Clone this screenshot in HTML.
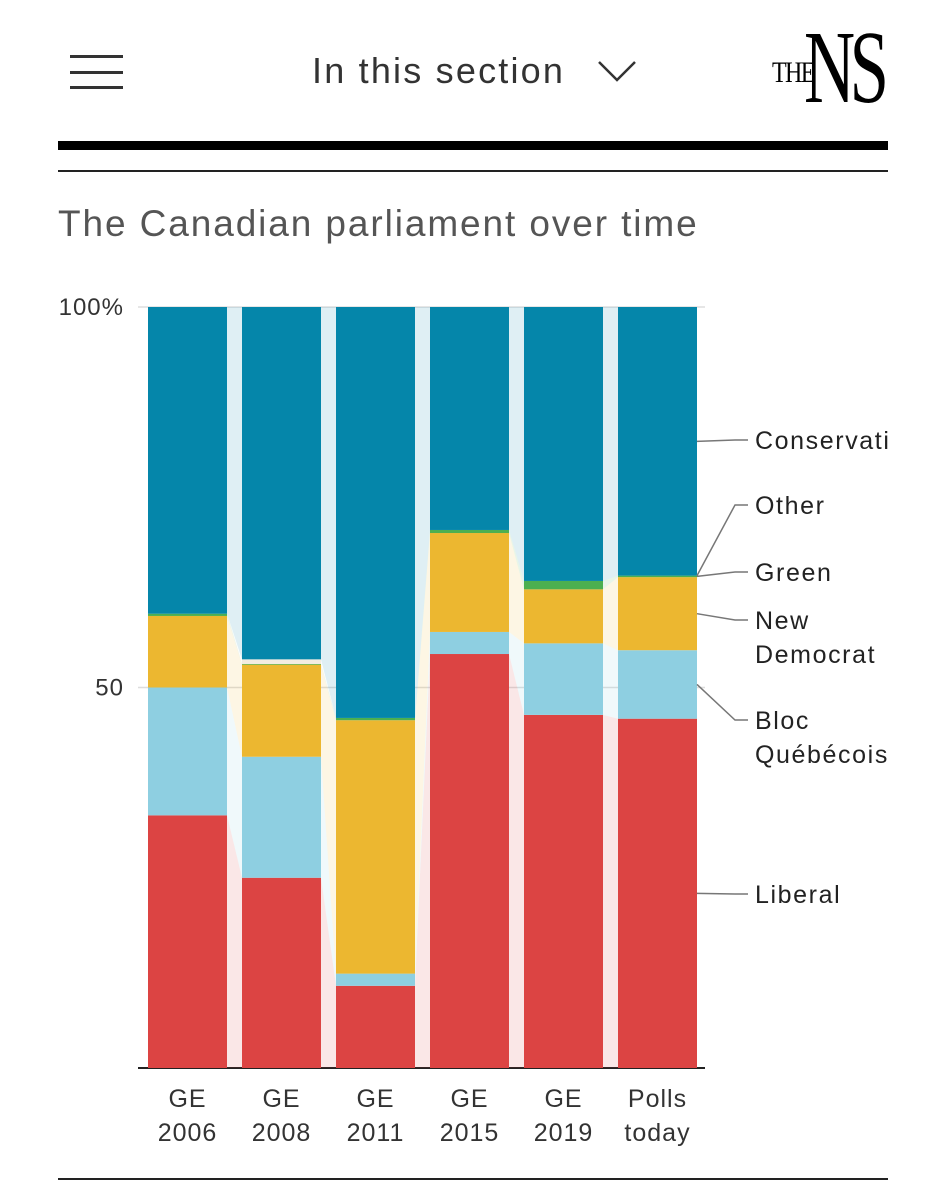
<!DOCTYPE html>
<html><head><meta charset="utf-8"><style>
body{margin:0;width:945px;height:1200px;background:#fff;font-family:"Liberation Sans",sans-serif;overflow:hidden;position:relative}
.abs{position:absolute}
</style></head><body>
<div class="abs" style="left:70px;top:55px;width:53px;height:34px">
<div style="height:3px;background:#333;margin-top:0"></div><div style="height:3px;background:#333;margin-top:13px"></div><div style="height:3px;background:#333;margin-top:12px"></div></div>
<div class="abs" style="left:312px;top:50px;font-size:36px;color:#333;letter-spacing:2.2px;white-space:nowrap">In this section <svg width="40" height="24" style="margin-left:20px" viewBox="0 0 40 24"><polyline points="2,3 20,21 38,3" fill="none" stroke="#333" stroke-width="2.5"/></svg></div>
<div class="abs" style="left:770px;top:12px;width:120px;height:100px;font-family:'Liberation Serif',serif;color:#000">
<span style="position:absolute;left:2px;top:44px;font-size:30px;letter-spacing:-2px;transform:scaleX(0.8);transform-origin:left">THE</span>
<span style="position:absolute;left:34px;top:-4px;font-size:104px;letter-spacing:-8px;transform:scaleX(0.68);transform-origin:left">NS</span></div>
<div class="abs" style="left:58px;top:141px;width:830px;height:9px;background:#000"></div>
<div class="abs" style="left:58px;top:170px;width:830px;height:2px;background:#222"></div>
<div class="abs" style="left:58px;top:203px;font-size:37px;color:#555;letter-spacing:1.9px;white-space:nowrap">The Canadian parliament over time</div>
<div class="abs" style="left:58px;top:1178px;width:830px;height:2px;background:#222"></div>
<svg class="abs" style="left:0;top:0" width="945" height="1200" id="chart"><defs><clipPath id="clip"><rect x="0" y="0" width="888" height="1200"/></clipPath></defs></svg>
<script>
const categories=["GE 2006","GE 2008","GE 2011","GE 2015","GE 2019","Polls today"];
const liberal=[33.2,25,10.8,54.4,46.4,45.9];
const bloc=[16.8,15.9,1.6,2.9,9.4,9];
const ndp=[9.4,12.1,33.3,13,7.1,9.6];
const green=[0.3,0.1,0.3,0.4,1.1,0.2];
const other=[0,0.6,0,0,0,0];
const yTicks=[0,50,100];
const yTickLabels=["","50","100%"];
const series=[["Liberal",liberal,"#dc4443"],["Bloc Québécois",bloc,"#8ecfe1"],["New Democrat",ndp,"#ecb730"],["Green",green,"#4caf50"],["Other",other,"#f3ece0"]];
const NS="http://www.w3.org/2000/svg";
const svg=document.getElementById('chart');
const y0=1068,y100=307;
const y=v=>y0-(y0-y100)*v/100;
const bx=i=>148+i*94, bw=79;
function mk(t,a){const e=document.createElementNS(NS,t);for(const k in a)e.setAttribute(k,a[k]);svg.appendChild(e);return e;}
yTicks.forEach((t,k)=>{
 const g=mk('line',{x1:138,x2:705,y1:y(t),y2:y(t),stroke:t==0?'#222':'#ddd','stroke-width':t==0?2:1.5});
 
 
 const tx=mk('text',{x:124,y:y(t)+8,'text-anchor':'end','font-size':24,fill:'#333','font-family':'Liberation Sans','letter-spacing':1});
 tx.textContent=yTickLabels[k];
 
 
});
const stacks=categories.map((c,i)=>{let b=0;const s=series.map(([n,arr])=>{const r=[b,b+arr[i]];b+=arr[i];return r;});s.push([b,100]);return s;});
const allColors=series.map(s=>s[2]).concat(["#0586aa"]);
for(let i=0;i<categories.length-1;i++){
 allColors.forEach((col,k)=>{
  const a=stacks[i][k],b=stacks[i+1][k];
  const x1=bx(i)+bw,x2=bx(i+1);
  const p=mk('polygon',{points:`${x1},${y(a[1])} ${x2},${y(b[1])} ${x2},${y(b[0])} ${x1},${y(a[0])}`,fill:col,'fill-opacity':0.13});
  
  
 });
}
categories.forEach((c,i)=>{
 allColors.forEach((col,k)=>{
  const [a,b]=stacks[i][k]; if(b-a<=0)return;
  const r=mk('rect',{x:bx(i),y:y(b),width:bw,height:y(a)-y(b),fill:col});
  
  
 });
 c.split(' ').forEach((p,j)=>{
  const t=mk('text',{x:bx(i)+bw/2,y:1107+j*34,'text-anchor':'middle','font-size':25,fill:'#333','font-family':'Liberation Sans','letter-spacing':1});
  t.textContent=p;
  
  
 });
});
const last=stacks.length-1;
const legend=[["Conservative",5,440],["Other",4,505],["Green",3,572],["New|Democrat",2,620],["Bloc|Québécois",1,720],["Liberal",0,894]];
legend.forEach(([lab,k,ly])=>{
 const [a,b]=stacks[last][k];
 const sy=y((a+b)/2);
 const ln=mk('polyline',{points:`697,${sy} 735,${ly} 748,${ly}`,fill:'none',stroke:'#777','stroke-width':1.5});
 
 
 lab.split('|').forEach((s,j)=>{
  const t=mk('text',{x:755,y:ly+9+j*34,'font-size':25,fill:'#222','font-family':'Liberation Sans','letter-spacing':1.6,'clip-path':'url(#clip)'});
  t.textContent=s;
  
  
 });
});
</script>
</body></html>
